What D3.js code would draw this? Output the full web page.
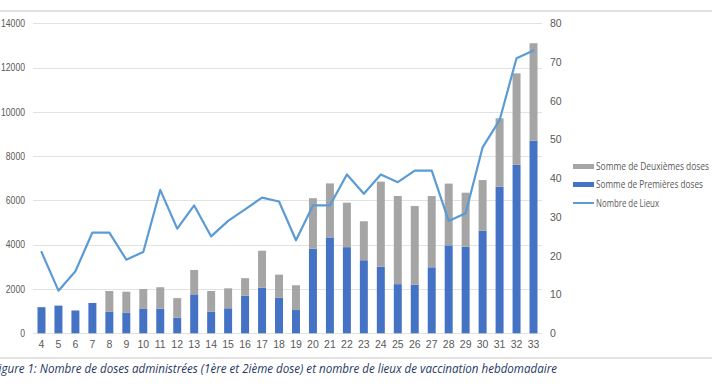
<!DOCTYPE html>
<html>
<head>
<meta charset="utf-8">
<script src="https://cdn.jsdelivr.net/npm/d3@7"></script>
<style>
  body { margin: 0; background: #fff; }
  svg { display: block; font-family: "Open Sans", "Noto Sans", sans-serif; }
</style>
</head>
<body>
<svg id="chart" width="712" height="389"></svg>
<script>
// weeks
var weeks = [4, 5, 6, 7, 8, 9, 10, 11, 12, 13, 14, 15, 16, 17, 18, 19, 20, 21, 22, 23, 24, 25, 26, 27, 28, 29, 30, 31, 32, 33];
// Somme de Premières doses
var firstDoses = [1180, 1250, 1030, 1370, 970, 940, 1100, 1110, 700, 1760, 970, 1130, 1700, 2060, 1610, 1050, 3820, 4330, 3890, 3300, 3010, 2220, 2200, 2980, 3970, 3910, 4630, 6620, 7610, 8700];
// Somme de Deuxièmes doses (stacked on top)
var secondDoses = [0, 0, 0, 0, 940, 940, 900, 970, 890, 1100, 940, 900, 790, 1670, 1040, 1120, 2280, 2440, 2010, 1760, 3840, 3980, 3550, 3220, 2790, 2440, 2290, 3090, 4130, 4400];
// Nombre de Lieux
var lieux = [21, 11, 16, 26, 26, 19, 21, 37, 27, 33, 25, 29, 32, 35, 34, 24, 33, 33, 41, 36, 41, 39, 42, 42, 29, 31, 48, 55, 71, 73];

var leftTicks = [0, 2000, 4000, 6000, 8000, 10000, 12000, 14000];
var rightTicks = [0, 10, 20, 30, 40, 50, 60, 70, 80];
var legendLabels = ["Somme de Deuxièmes doses", "Somme de Premières doses", "Nombre de Lieux"];
var caption = "Figure 1: Nombre de doses administrées (1ère et 2ième dose) et nombre de lieux de vaccination hebdomadaire";

var svg = d3.select("#chart");
var plotLeft = 33, plotRight = 542, plotTop = 23.3, plotBottom = 333.3;

var x = d3.scaleBand().domain(weeks).range([plotLeft, plotRight]).paddingInner(0.53).paddingOuter(0.265);
var y = d3.scaleLinear().domain([0, 14000]).range([plotBottom, plotTop]);
var y2 = d3.scaleLinear().domain([0, 80]).range([plotBottom, plotTop]);

// frame lines of the picture
svg.append("line").attr("x1", 0).attr("x2", 712).attr("y1", 11).attr("y2", 11)
    .attr("stroke", "#d9d9d9").attr("stroke-width", 1.5);
svg.append("line").attr("x1", 0).attr("x2", 712).attr("y1", 358).attr("y2", 358)
    .attr("stroke", "#e3e3e3").attr("stroke-width", 2);

// gridlines
svg.append("g").selectAll("line").data(leftTicks).enter().append("line")
    .attr("x1", plotLeft).attr("x2", plotRight)
    .attr("y1", function (d) { return Math.round(y(d)) + 0.5; })
    .attr("y2", function (d) { return Math.round(y(d)) + 0.5; })
    .attr("stroke", "#e2e2e2").attr("stroke-width", 1);

// left axis
var yAxis = svg.append("g").attr("transform", "translate(" + plotLeft + ",0)")
    .call(d3.axisLeft(y).tickValues(leftTicks).tickSize(0).tickPadding(8).tickFormat(d3.format("d")));
yAxis.select(".domain").remove();

// right axis
var yAxis2 = svg.append("g").attr("transform", "translate(" + plotRight + ",0)")
    .call(d3.axisRight(y2).tickValues(rightTicks).tickSize(0).tickPadding(8));
yAxis2.select(".domain").remove();

// x axis
var xAxis = svg.append("g").attr("transform", "translate(0," + plotBottom + ")")
    .call(d3.axisBottom(x).tickSize(0).tickPadding(7));
xAxis.select(".domain").remove();

svg.selectAll(".tick text").attr("fill", "#595959").style("font-size", "10.5px");
// narrow the left labels a little so 14000 fits in the margin
yAxis.selectAll(".tick text").style("font-size", "10px")
    .attr("textLength", function (d) { return String(d).length * 4.8; })
    .attr("lengthAdjust", "spacingAndGlyphs");

// stacked bars
var bars = svg.append("g");
bars.selectAll("rect.first").data(weeks).enter().append("rect")
    .attr("class", "first")
    .attr("x", function (d) { return x(d); })
    .attr("width", x.bandwidth())
    .attr("y", function (d, i) { return y(firstDoses[i]); })
    .attr("height", function (d, i) { return y(0) - y(firstDoses[i]); })
    .attr("fill", "#4472c4");
bars.selectAll("rect.second").data(weeks).enter().append("rect")
    .attr("class", "second")
    .attr("x", function (d) { return x(d); })
    .attr("width", x.bandwidth())
    .attr("y", function (d, i) { return y(firstDoses[i] + secondDoses[i]); })
    .attr("height", function (d, i) { return y(firstDoses[i]) - y(firstDoses[i] + secondDoses[i]); })
    .attr("fill", "#a5a5a5");

// line
var line = d3.line()
    .x(function (d, i) { return x(weeks[i]) + x.bandwidth() / 2; })
    .y(function (d) { return y2(d); });
svg.append("path").attr("d", line(lieux))
    .attr("fill", "none").attr("stroke", "#5b9bd5").attr("stroke-width", 2.2)
    .attr("stroke-linejoin", "round").attr("stroke-linecap", "round");

// legend
var legend = svg.append("g");
var legendY = [166.5, 184.5, 203];
var legendW = [113, 107, 63];
legend.append("rect").attr("x", 573).attr("y", legendY[0] - 2.5).attr("width", 21).attr("height", 5).attr("fill", "#a5a5a5");
legend.append("rect").attr("x", 573).attr("y", legendY[1] - 2.5).attr("width", 21).attr("height", 5).attr("fill", "#4472c4");
legend.append("line").attr("x1", 573).attr("x2", 594).attr("y1", legendY[2]).attr("y2", legendY[2])
    .attr("stroke", "#5b9bd5").attr("stroke-width", 2);
legend.selectAll("text").data(legendLabels).enter().append("text")
    .attr("x", 596)
    .attr("y", function (d, i) { return legendY[i]; })
    .attr("dy", "0.35em")
    .attr("textLength", function (d, i) { return legendW[i]; })
    .attr("lengthAdjust", "spacingAndGlyphs")
    .attr("fill", "#595959")
    .style("font-size", "10px")
    .text(function (d) { return d; });

// caption
svg.append("text")
    .attr("x", -7).attr("y", 369).attr("dy", "0.35em")
    .attr("textLength", 564).attr("lengthAdjust", "spacingAndGlyphs")
    .attr("fill", "#1f3864")
    .style("font-size", "12.5px").style("font-style", "italic")
    .text(caption);
</script>
</body>
</html>
